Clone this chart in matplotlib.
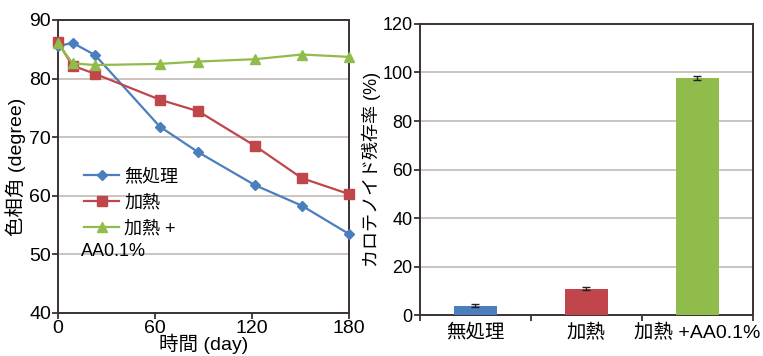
import matplotlib.pyplot as plt
import numpy as np

plt.rcParams['font.family'] = ['Liberation Sans', 'Noto Sans CJK JP']

# 色相角の経時変化
days = [0, 9, 23, 63, 87, 122, 151, 180]
hue_none = [85.5, 86.1, 84.0, 71.8, 67.4, 61.8, 58.3, 53.5]
hue_heat = [86.2, 82.2, 80.8, 76.4, 74.4, 68.5, 63.0, 60.3]
hue_heat_aa = [86.0, 82.6, 82.3, 82.5, 82.9, 83.3, 84.1, 83.7]

# カロテノイド残存率
categories = ['無処理', '加熱', '加熱 +AA0.1%']
retention = [4.0, 11.0, 97.8]
retention_err = [0.5, 0.6, 0.8]

c_blue = '#4a7ebe'
c_red = '#c0464c'
c_green = '#8fbc4a'
frame = '#3a3232'
gridc = '#c4bab4'

fig = plt.figure(figsize=(7.63, 3.56), dpi=100)

# 左: 色相角
ax1 = fig.add_axes([0.076, 0.121, 0.381, 0.823])
ax1.plot(days, hue_none, color=c_blue, marker='D', ms=5.5, lw=1.6, label='無処理', clip_on=False, zorder=3)
ax1.plot(days, hue_heat, color=c_red, marker='s', ms=7, lw=1.6, label='加熱', clip_on=False, zorder=3)
ax1.plot(days, hue_heat_aa, color=c_green, marker='^', ms=7, lw=1.6, label='加熱 +', clip_on=False, zorder=3)
ax1.set_xlim(0, 180)
ax1.set_ylim(40, 90)
ax1.set_xticks([0, 60, 120, 180])
ax1.set_yticks([40, 50, 60, 70, 80, 90])
for y in [50, 60, 70, 80]:
    ax1.axhline(y, color=gridc, lw=1.2, zorder=1)
ax1.set_xlabel('時間 (day)', fontsize=14, labelpad=-2)
ax1.set_ylabel('色相角 (degree)', fontsize=14, labelpad=2)
ax1.tick_params(labelsize=14, color=frame, direction='out', length=4, width=1.3, pad=1)
leg = ax1.legend(loc='upper left', bbox_to_anchor=(0.035, 0.55), frameon=False, fontsize=13,
                 handlelength=1.9, labelspacing=0.5, handletextpad=0.3)
# 凡例3行目の続き
ax1.text(0.08, 0.21, 'AA0.1%', transform=ax1.transAxes, fontsize=13, va='center')

# 右: カロテノイド残存率
ax2 = fig.add_axes([0.550, 0.114, 0.4365, 0.819])
x = np.arange(len(categories))
ax2.bar(x, retention, width=0.39, color=[c_blue, c_red, c_green], zorder=3,
        yerr=retention_err, ecolor='#222222', capsize=3, error_kw={'lw': 1})
ax2.set_xlim(-0.5, 2.5)
ax2.set_ylim(0, 120)
ax2.set_yticks([0, 20, 40, 60, 80, 100, 120])
ax2.set_xticks(x)
ax2.set_xticklabels(categories, fontsize=14)
ax2.set_xticks([-0.5, 0.5, 1.5, 2.5], minor=True)
ax2.tick_params(axis='x', which='major', length=0, pad=6)
ax2.tick_params(axis='x', which='minor', length=4, width=1.3, color=frame)
ax2.tick_params(axis='y', labelsize=13, length=4, width=1.3, color=frame, pad=1)
for y in [20, 40, 60, 80, 100]:
    ax2.axhline(y, color=gridc, lw=1.2, zorder=1)
ax2.set_ylabel('カロテノイド残存率 (%)', fontsize=13, labelpad=1)

for ax in (ax1, ax2):
    for s in ax.spines.values():
        s.set_color(frame)
        s.set_linewidth(1.4)

fig.savefig('out.png', dpi=100)
